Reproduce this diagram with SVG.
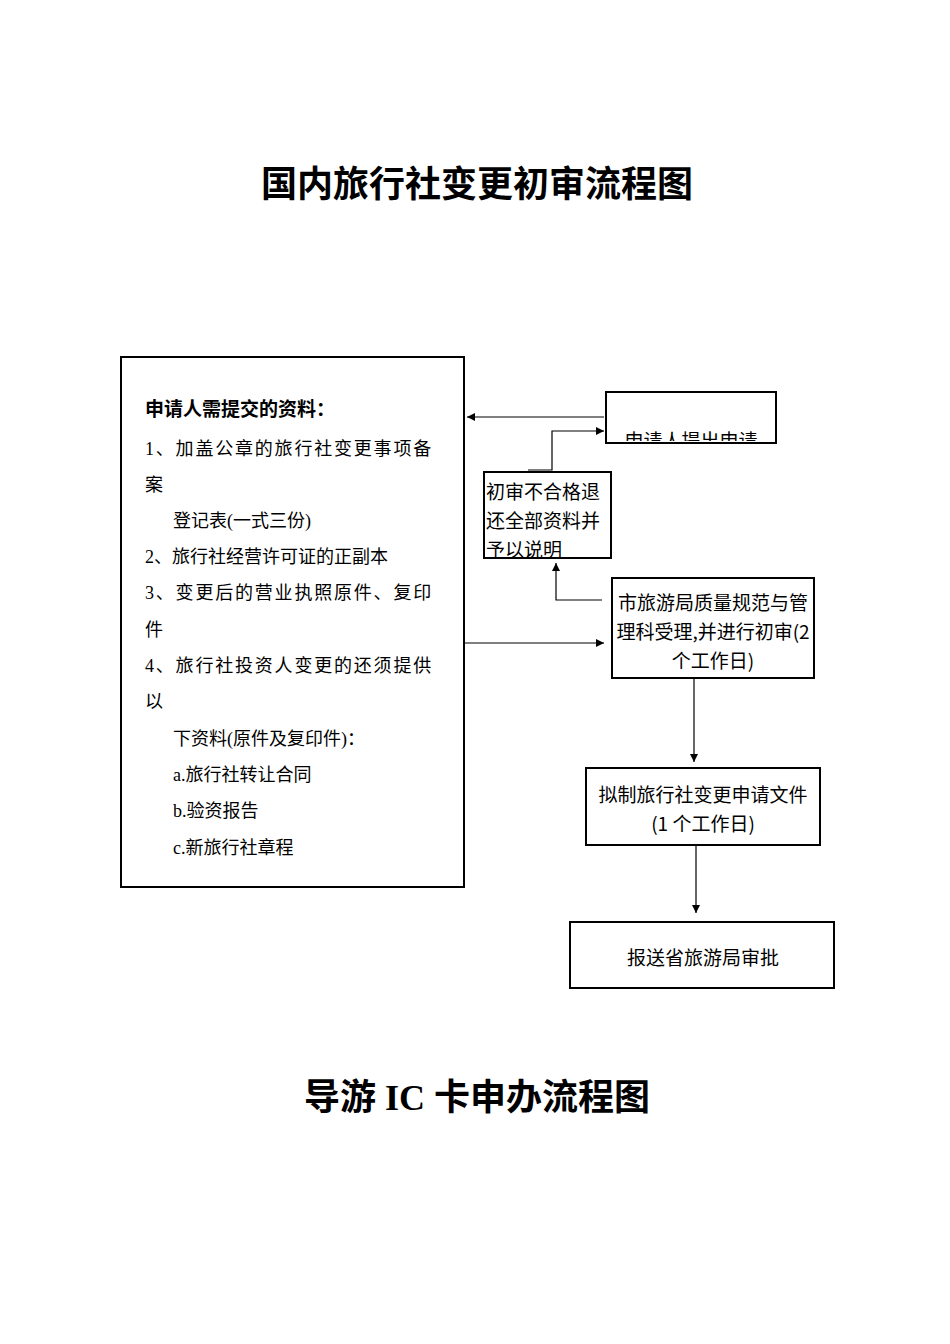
<svg xmlns="http://www.w3.org/2000/svg" width="950" height="1344" viewBox="0 0 950 1344">
<style>
.b{fill:#fff;stroke:#000;stroke-width:2}
.s{font-family:"Liberation Serif","Noto Sans CJK SC",serif;font-size:18px;fill:#000}
.h{font-family:"Noto Sans CJK SC",sans-serif;font-size:19px;fill:#000}
.t{font-family:"Liberation Serif","Noto Sans CJK SC",sans-serif;font-size:36px;font-weight:bold;fill:#000;text-anchor:middle}
.c{fill:none;stroke:#000;stroke-width:1.2}
</style>
<defs>
<marker id="a" viewBox="0 0 10 10" refX="10" refY="5" markerWidth="8" markerHeight="8" markerUnits="userSpaceOnUse" orient="auto"><path d="M0,0L10,5L0,10z" fill="#000"/></marker>
<clipPath id="cp"><rect x="606" y="392" width="170" height="49"/></clipPath>
</defs>
<rect width="950" height="1344" fill="#fff"/>
<text class="t" x="477" y="197">国内旅行社变更初审流程图</text>
<g id="n1"><rect class="b" x="121" y="357" width="343" height="530"/>
<text class="h" x="145" y="416" font-weight="bold" font-size="20">申请人需提交的资料：</text>
<g class="s" letter-spacing="1.8">
<text x="145" y="455">1、加盖公章的旅行社变更事项备</text>
<text x="145" y="491">案</text>
<text x="173" y="527" letter-spacing="0">登记表(一式三份)</text>
<text x="145" y="563" letter-spacing="0">2、旅行社经营许可证的正副本</text>
<text x="145" y="599">3、变更后的营业执照原件、复印</text>
<text x="145" y="636">件</text>
<text x="145" y="672">4、旅行社投资人变更的还须提供</text>
<text x="145" y="708">以</text>
<text x="173" y="745" letter-spacing="0">下资料(原件及复印件)：</text>
<text x="173" y="781" letter-spacing="0">a.旅行社转让合同</text>
<text x="173" y="817" letter-spacing="0">b.验资报告</text>
<text x="173" y="854" letter-spacing="0">c.新旅行社章程</text>
</g></g>
<g id="n2"><rect class="b" x="606" y="392" width="170" height="51"/>
<text class="h" x="691" y="448" text-anchor="middle" clip-path="url(#cp)">申请人提出申请</text></g>
<g id="n3"><rect class="b" x="484" y="472" width="127" height="86"/>
<text class="h" x="486" y="499">初审不合格退</text><text class="h" x="486" y="528">还全部资料并</text><text class="h" x="486" y="557">予以说明</text></g>
<g id="n4"><rect class="b" x="612" y="578" width="202" height="100"/>
<g class="h" text-anchor="middle"><text x="713" y="610">市旅游局质量规范与管</text><text x="713" y="639">理科受理,并进行初审(2</text><text x="713" y="668">个工作日)</text></g></g>
<g id="n5"><rect class="b" x="586" y="768" width="234" height="77"/>
<g class="h" text-anchor="middle"><text x="703" y="802">拟制旅行社变更申请文件</text><text x="703" y="831">(1 个工作日)</text></g></g>
<g id="n6"><rect class="b" x="570" y="922" width="264" height="66"/>
<text class="h" x="703" y="965" text-anchor="middle">报送省旅游局审批</text></g>
<g id="connectors">
<path class="c" d="M604,417H467" marker-end="url(#a)"/>
<path class="c" d="M528,470H552V431H604" marker-end="url(#a)"/>
<path class="c" d="M602,600H556V563" marker-end="url(#a)"/>
<path class="c" d="M465,643H604" marker-end="url(#a)"/>
<path class="c" d="M694,679V762" marker-end="url(#a)"/>
<path class="c" d="M696,846V913" marker-end="url(#a)"/>
</g>
<text class="t" x="477" y="1110">导游 IC 卡申办流程图</text>
</svg>
